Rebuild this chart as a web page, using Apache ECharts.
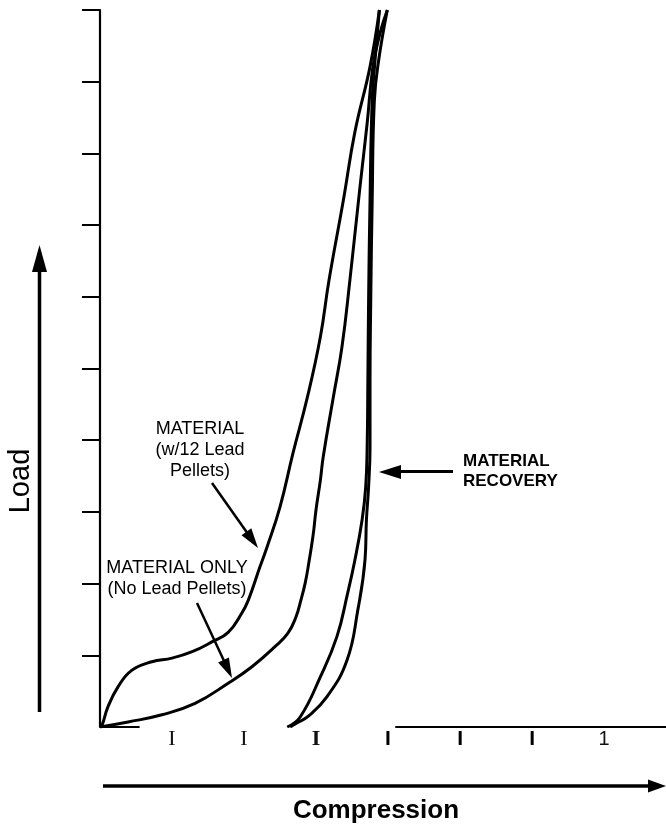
<!DOCTYPE html>
<html>
<head>
<meta charset="utf-8">
<script src="https://cdn.jsdelivr.net/npm/echarts@6/dist/echarts.min.js"></script>
<style>
html,body{margin:0;padding:0;background:#fff;}
#chart{width:666px;height:827px;}
</style>
</head>
<body>
<div id="chart"></div>
<script>
// ---- data (Compression, Load) in arbitrary axis units ----
const loadWithPellets = [
  [0,0],[0.03,0.03],[0.11,0.28],[0.25,0.56],[0.44,0.79],[0.72,0.91],[1.00,0.96],
  [1.28,1.05],[1.56,1.19],[1.78,1.32],[1.97,1.59],[2.06,1.77],[2.22,2.23],[2.32,2.51],
  [2.50,3.07],[2.68,3.82],[2.88,4.60],[3.06,5.44],[3.18,6.23],[3.38,7.35],[3.54,8.30],
  [3.75,9.21],[3.88,10]
];
const loadNoPellets = [
  [0,0],[0.39,0.07],[0.86,0.17],[1.32,0.33],[1.78,0.61],[2.11,0.84],[2.43,1.12],
  [2.61,1.31],[2.72,1.53],[2.79,1.77],[2.85,2.01],[2.90,2.29],[2.96,2.68],[3.00,3.03],
  [3.06,3.44],[3.10,3.77],[3.24,4.60],[3.36,5.30],[3.47,6.23],[3.61,7.53],[3.71,8.42],
  [3.79,9.21],[3.89,9.68],[3.99,10]
];
const recoveryA = [
  [3.88,10],[3.82,9.30],[3.78,8.74],[3.75,7.35],[3.73,5.96],[3.72,4.84],[3.71,3.91],
  [3.69,3.35],[3.64,2.89],[3.54,2.33],[3.44,1.87],[3.29,1.26],[3.06,0.70],[2.78,0.14],[2.60,0]
];
const recoveryB = [
  [3.99,10],[3.87,9.30],[3.81,8.74],[3.78,7.35],[3.76,5.96],[3.75,4.84],[3.75,3.91],
  [3.73,3.35],[3.70,2.89],[3.68,2.33],[3.58,1.63],[3.43,0.93],[3.15,0.42],[2.88,0.14],
  [2.74,0.06],[2.64,0]
];
// visible pieces of the compression baseline
const baselineLeft = [[0,0],[0.55,0]];
const baselineRight = [[4.10,0],[7.86,0]];
// tick values and tick glyphs
const yTickValues = [1,2,3,4,5,6,7,8,9,10];
const xTickValues = [1,2,3,4,5,6,7];
const xTickGlyphs = ['', 'I', 'I', 'I', 'I', 'I', 'I', '1'];
const xTickStyles = ['', 's', 's', 'sb', 'b', 'b', 'b', 'n'];

const chart = echarts.init(document.getElementById('chart'), null, {renderer:'canvas'});

const curveStyle = {color:'#000', width:3};
function curve(name, data){
  return {name, type:'line', data, showSymbol:false, smooth:0.45, lineStyle:curveStyle,
          silent:true, animation:false, z:3};
}
function baseSeg(data){
  return {type:'line', data, showSymbol:false, lineStyle:{color:'#000', width:2},
          silent:true, animation:false, z:2};
}

const SANS = "'Liberation Sans', Arial, sans-serif";

chart.setOption({
  animation:false,
  backgroundColor:'#fff',
  grid:{left:100, top:10, width:566, height:717, outerBoundsMode:'none', containLabel:false},
  xAxis:{
    type:'value', min:0, max:7.86, interval:1,
    axisLine:{show:false}, axisTick:{show:false}, splitLine:{show:false},
    axisLabel:{
      show:true, customValues:xTickValues, margin:1,
      formatter:(v)=>'{' + xTickStyles[v] + '|' + xTickGlyphs[v] + '}',
      rich:{
        s:{fontFamily:"'Liberation Serif', serif", fontSize:22, lineHeight:22, color:'#111'},
        sb:{fontFamily:"'Liberation Serif', serif", fontWeight:'bold', fontSize:22, lineHeight:22, color:'#111'},
        b:{fontFamily:SANS, fontWeight:'bold', fontSize:21, lineHeight:22, color:'#000'},
        n:{fontFamily:SANS, fontSize:20, lineHeight:22, color:'#111'}
      }
    }
  },
  yAxis:{
    type:'value', min:0, max:10, interval:1,
    axisLine:{show:true, lineStyle:{color:'#000', width:2.2}},
    axisTick:{show:true, customValues:yTickValues, length:18, lineStyle:{color:'#000', width:2}},
    axisLabel:{show:false}, splitLine:{show:false}
  },
  series:[
    baseSeg(baselineLeft),
    baseSeg(baselineRight),
    curve('MATERIAL (w/12 Lead Pellets)', loadWithPellets),
    curve('MATERIAL ONLY (No Lead Pellets)', loadNoPellets),
    curve('MATERIAL RECOVERY A', recoveryA),
    curve('MATERIAL RECOVERY B', recoveryB)
  ],
  graphic:[
    // Load arrow
    {type:'line', shape:{x1:39.5, y1:268, x2:39.5, y2:712}, style:{stroke:'#000', lineWidth:3.5}},
    {type:'polygon', shape:{points:[[39.5,245],[32,272],[47,272]]}, style:{fill:'#000'}},
    {type:'text', x:21, y:481, rotation:Math.PI/2,
     style:{text:'Load', font:"29px " + SANS, fill:'#000', align:'center', verticalAlign:'middle'}},
    // Compression arrow
    {type:'line', shape:{x1:103, y1:786, x2:652, y2:786}, style:{stroke:'#000', lineWidth:3.5}},
    {type:'polygon', shape:{points:[[666,786],[648,779.5],[648,792.5]]}, style:{fill:'#000'}},
    {type:'text', x:376, y:811,
     style:{text:'Compression', font:"bold 26px " + SANS, fill:'#000', align:'center', verticalAlign:'middle'}},
    // annotation: with pellets
    {type:'text', x:200, y:419,
     style:{text:'MATERIAL\n(w/12 Lead\nPellets)', font:"18px " + SANS, lineHeight:21, fill:'#000', align:'center', verticalAlign:'top'}},
    {type:'line', shape:{x1:212, y1:483, x2:248, y2:534}, style:{stroke:'#000', lineWidth:2.5}},
    {type:'polygon', shape:{points:[[258,548],[241.5,535.2],[251.3,528.2]]}, style:{fill:'#000'}},
    // annotation: no pellets
    {type:'text', x:177, y:558,
     style:{text:'MATERIAL ONLY\n(No Lead Pellets)', font:"18px " + SANS, lineHeight:21, fill:'#000', align:'center', verticalAlign:'top'}},
    {type:'line', shape:{x1:197, y1:603, x2:225, y2:663}, style:{stroke:'#000', lineWidth:2.5}},
    {type:'polygon', shape:{points:[[232,678],[218.1,662.5],[228.9,657.5]]}, style:{fill:'#000'}},
    // annotation: recovery
    {type:'text', x:463, y:451,
     style:{text:'MATERIAL\nRECOVERY', font:"bold 17px " + SANS, lineHeight:20, fill:'#000', align:'left', verticalAlign:'top'}},
    {type:'line', shape:{x1:398, y1:471.5, x2:453, y2:471.5}, style:{stroke:'#000', lineWidth:3}},
    {type:'polygon', shape:{points:[[379,472],[401,465],[401,479]]}, style:{fill:'#000'}}
  ]
});
</script>
</body>
</html>
